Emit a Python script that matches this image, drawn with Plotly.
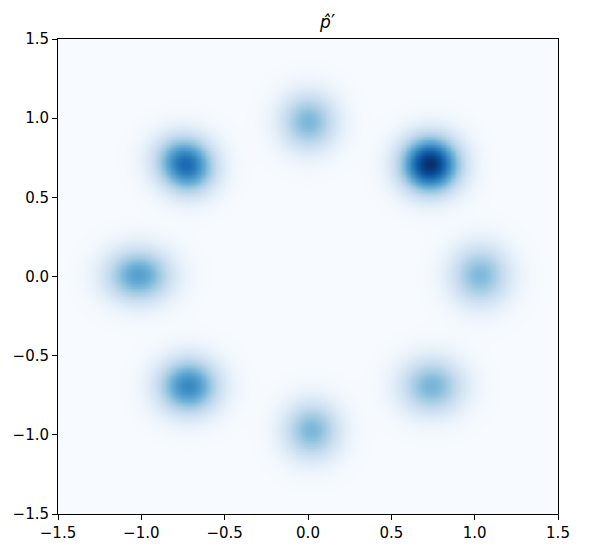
import numpy as np
import plotly.graph_objects as go

# Mixture components (centre, peak weight, spread)
center_x = [0.73, 0.00, -0.76, -0.71, -1.02, 1.03, 0.74, -0.72, 0.02]
center_y = [0.71, 0.98, 0.75, 0.66, 0.01, 0.01, -0.69, -0.69, -0.97]
weight = [1.00, 0.46, 0.46, 0.40, 0.56, 0.45, 0.47, 0.66, 0.46]
sigma_x = [0.125, 0.12, 0.125, 0.115, 0.14, 0.125, 0.135, 0.13, 0.12]
sigma_y = [0.125, 0.13, 0.115, 0.115, 0.12, 0.135, 0.125, 0.125, 0.13]

grid = np.linspace(-1.5, 1.5, 301)
X, Y = np.meshgrid(grid, grid)
Z = np.zeros_like(X)
for cx, cy, w, sx, sy in zip(center_x, center_y, weight, sigma_x, sigma_y):
    Z += w * np.exp(-((X - cx) ** 2) / (2 * sx ** 2) - ((Y - cy) ** 2) / (2 * sy ** 2))

fig = go.Figure(go.Heatmap(
    x=grid, y=grid, z=Z,
    colorscale="Blues", zmin=0, zmax=Z.max(),
    zsmooth="best", showscale=False, hoverinfo="skip",
))

axis = dict(
    range=[-1.5, 1.5],
    tickvals=[-1.5, -1.0, -0.5, 0.0, 0.5, 1.0, 1.5],
    tickformat=".1f",
    ticks="outside", ticklen=5, tickcolor="black",
    showline=True, linecolor="black", linewidth=1, mirror=True,
    showgrid=False, zeroline=False, automargin=False,
    tickfont=dict(family="DejaVu Sans", size=15, color="black"),
)

fig.update_layout(
    width=592, height=547,
    margin=dict(l=50, r=42, t=31, b=41),
    paper_bgcolor="white", plot_bgcolor="white",
    title=dict(text="<i>p̂</i><span style='font-size:19px'>′</span>", x=0.54, xanchor="center",
               y=0.975, yanchor="middle",
               font=dict(family="DejaVu Sans", size=17, color="black")),
    xaxis=axis, yaxis=axis,
)

fig.write_html("out.html")
